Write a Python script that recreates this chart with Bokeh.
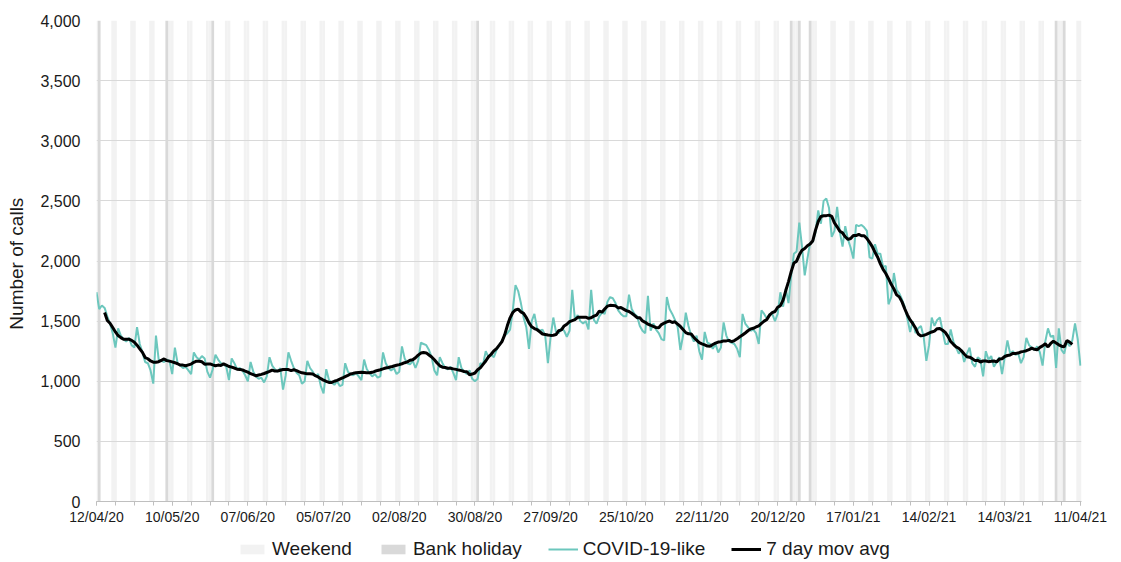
import pandas as pd
from bokeh.plotting import figure
from bokeh.layouts import column
from bokeh.models import (FixedTicker, DatetimeTickFormatter, NumeralTickFormatter,
                          Legend, LegendItem, Range1d)
from bokeh.embed import file_html
from bokeh.resources import INLINE

# ---------------- data ----------------
start_date = "2020-04-12"
covid_calls = [
    1740, 1600, 1630, 1610, 1540, 1480, 1400,
    1280, 1440, 1380, 1350, 1330, 1360, 1300,
    1280, 1450, 1310, 1240, 1160, 1150, 1090,
    980, 1380, 1180, 1170, 1160, 1180, 1170,
    1060, 1280, 1150, 1130, 1110, 1120, 1090,
    1060, 1240, 1200, 1180, 1210, 1190, 1080,
    1030, 1100, 1220, 1180, 1150, 1140, 1120,
    1010, 1190, 1150, 1100, 1110, 1090, 1050,
    1000, 1160, 1080, 1040, 1020, 1030, 990,
    1040, 1200, 1130, 1100, 1080, 1110, 930,
    1050, 1240, 1170, 1110, 1070, 1050, 980,
    1000, 1170, 1110, 1080, 1040, 1060, 960,
    900, 1100, 1010, 990, 970, 1000, 960,
    970, 1150, 1080, 1060, 1050, 1070, 1040,
    1010, 1180, 1100, 1070, 1040, 1060, 1030,
    1040, 1240, 1150, 1110, 1090, 1110, 1060,
    1080, 1290, 1190, 1150, 1140, 1170, 1110,
    1170, 1320, 1310, 1300, 1260, 1200, 1090,
    1050, 1200, 1150, 1110, 1100, 1120, 1070,
    1010, 1200, 1110, 1080, 1060, 1090, 1020,
    1000, 1020, 1150, 1140, 1250, 1200, 1220,
    1200, 1260, 1300, 1340, 1380, 1400, 1430,
    1590, 1800, 1750, 1650, 1530, 1450, 1270,
    1500, 1560, 1440, 1420, 1430, 1380, 1150,
    1370, 1530, 1410, 1400, 1440, 1420, 1370,
    1420, 1760, 1510, 1550, 1500, 1480, 1500,
    1430, 1760, 1510, 1480, 1540, 1570, 1560,
    1660, 1700, 1690, 1650, 1590, 1560, 1540,
    1540, 1720, 1600, 1560, 1540, 1460, 1420,
    1400, 1710, 1420, 1480, 1430, 1400, 1350,
    1340, 1700, 1600, 1560, 1510, 1450, 1260,
    1380, 1570, 1460, 1380, 1330, 1380, 1250,
    1180, 1410, 1320, 1310, 1270, 1310, 1240,
    1280, 1490, 1380, 1330, 1320, 1310, 1270,
    1200, 1560, 1480, 1450, 1420, 1430, 1400,
    1310, 1590, 1560, 1520, 1560, 1560, 1500,
    1560, 1740, 1620, 1770, 1650, 1880, 2060,
    2080, 2320, 2120, 1880, 2020, 2150, 2160,
    2240, 2420, 2310, 2500, 2520, 2440, 2200,
    2250, 2450, 2240, 2120, 2290, 2180, 2110,
    2020, 2300, 2290, 2300, 2280, 2250, 2030,
    2020, 2140, 2060, 2060, 1950, 1960, 1640,
    1700, 1900, 1760, 1730, 1680, 1620, 1520,
    1410, 1500, 1400, 1440, 1460, 1370, 1170,
    1300, 1530, 1460, 1510, 1530, 1420, 1310,
    1310, 1430, 1330, 1280, 1230, 1260, 1160,
    1230, 1280, 1150, 1120, 1200, 1180, 1040,
    1250, 1180, 1210, 1120, 1160, 1200, 1060,
    1200, 1340, 1230, 1250, 1220, 1230, 1150,
    1200, 1360, 1300, 1280, 1260, 1290, 1240,
    1130, 1330, 1440, 1370, 1380, 1110, 1440,
    1260, 1230, 1330, 1290, 1340, 1480, 1350,
    1130,
]
bank_holidays = ["2020-04-13", "2020-05-08", "2020-05-25", "2020-08-31",
                 "2020-12-25", "2020-12-28", "2021-01-01", "2021-04-02", "2021-04-05"]
x_tick_dates = ["2020-04-12", "2020-05-10", "2020-06-07", "2020-07-05", "2020-08-02",
                "2020-08-30", "2020-09-27", "2020-10-25", "2020-11-22", "2020-12-20",
                "2021-01-17", "2021-02-14", "2021-03-14", "2021-04-11"]
y_ticks = [0, 500, 1000, 1500, 2000, 2500, 3000, 3500, 4000]
legend_labels = ["Weekend", "Bank holiday", "COVID-19-like", "7 day mov avg"]

# ---------------- derived ----------------
dates = pd.date_range(start_date, periods=len(covid_calls), freq="D")
mov_avg = pd.Series(covid_calls).rolling(7, center=True).mean()
weekend_dates = dates[dates.weekday >= 5]
bh_dates = pd.to_datetime(bank_holidays)
DAY = 86400000.0

def ms(d):
    return pd.Timestamp(d).value / 1e6

FONT = "Liberation Sans"
TXT = "#1a1a1a"
WE_COL, BH_COL, CV_COL = "#f2f2f2", "#d9d9d9", "#6cc7bd"

p = figure(width=1113, height=530, x_axis_type="datetime",
           x_range=Range1d(ms(dates[0]), ms(dates[-1]) + 0.4 * DAY),
           y_range=Range1d(0, 4000),
           output_backend="svg", toolbar_location=None,
           min_border_left=96, min_border_right=32, min_border_top=20, min_border_bottom=29)
p.outline_line_color = None
p.background_fill_color = "white"

p.vbar(x=weekend_dates, top=4000, bottom=0, width=1.02 * DAY,
       fill_color=WE_COL, line_color=None, level="image")
p.vbar(x=bh_dates, top=4000, bottom=0, width=1.02 * DAY,
       fill_color=BH_COL, line_color=None, level="image")
p.line(dates, covid_calls, line_color=CV_COL, line_width=2)
p.line(dates, mov_avg, line_color="black", line_width=3)

# grid
p.xgrid.grid_line_color = None
p.ygrid.grid_line_color = "#d9d9d9"
p.ygrid.grid_line_width = 1

# y axis
p.yaxis.ticker = FixedTicker(ticks=y_ticks)
p.yaxis.formatter = NumeralTickFormatter(format="0,0")
p.yaxis.axis_line_color = None
p.yaxis.major_tick_line_color = None
p.yaxis.major_tick_out = 0
p.yaxis.major_tick_in = 0
p.yaxis.minor_tick_line_color = None
p.yaxis.minor_tick_out = 0
p.yaxis.major_label_text_font = FONT
p.yaxis.major_label_text_font_size = "16px"
p.yaxis.major_label_text_color = TXT
p.yaxis.major_label_standoff = 16
p.yaxis.axis_label = "Number  of calls"
p.yaxis.axis_label_text_font = FONT
p.yaxis.axis_label_text_font_size = "19px"
p.yaxis.axis_label_text_font_style = "normal"
p.yaxis.axis_label_text_color = TXT
p.yaxis.axis_label_standoff = 10

# x axis
major = [ms(d) for d in x_tick_dates]
minor = [ms(d) for d in pd.date_range(x_tick_dates[0], x_tick_dates[-1], freq="7D")]
p.xaxis.ticker = FixedTicker(ticks=major, minor_ticks=minor)
fmt = "%d/%m/%y"
p.xaxis.formatter = DatetimeTickFormatter(days=fmt, months=fmt, years=fmt, hours=fmt,
                                          context=None)
p.xaxis.axis_line_color = "#bfbfbf"
p.xaxis.major_tick_line_color = "#bfbfbf"
p.xaxis.minor_tick_line_color = "#bfbfbf"
p.xaxis.major_tick_in = 0
p.xaxis.major_tick_out = 4
p.xaxis.minor_tick_in = 0
p.xaxis.minor_tick_out = 4
p.xaxis.major_label_text_font = FONT
p.xaxis.major_label_text_font_size = "14px"
p.xaxis.major_label_text_color = TXT
p.xaxis.major_label_standoff = 3

# ---------------- legend strip ----------------
lg = figure(width=1113, height=30, x_range=Range1d(0, 1), y_range=Range1d(0, 1),
            x_axis_location=None, y_axis_location=None,
            output_backend="svg", toolbar_location=None,
            min_border_left=0, min_border_right=0, min_border_top=0, min_border_bottom=0)
lg.grid.visible = False
lg.outline_line_color = None
l_we = lg.vbar(x=[5], top=[6], bottom=[5], width=0.1, fill_color=WE_COL, line_color=None)
l_bh = lg.vbar(x=[5], top=[6], bottom=[5], width=0.1, fill_color=BH_COL, line_color=None)
l_cv = lg.line([5, 6], [5, 6], line_color=CV_COL, line_width=2)
l_ma = lg.line([5, 6], [5, 6], line_color="black", line_width=3)

legend = Legend(items=[
    LegendItem(label=legend_labels[0], renderers=[l_we]),
    LegendItem(label=legend_labels[1], renderers=[l_bh]),
    LegendItem(label=legend_labels[2], renderers=[l_cv]),
    LegendItem(label=legend_labels[3], renderers=[l_ma]),
], orientation="horizontal", location=(141, 0))
legend.label_text_font = FONT
legend.label_text_font_size = "19px"
legend.label_text_color = TXT
legend.glyph_width = 30
legend.glyph_height = 12
legend.label_standoff = 5
legend.spacing = 26
legend.padding = 0
legend.margin = 0
legend.border_line_color = None
legend.background_fill_alpha = 0
lg.add_layout(legend)

layout = column(p, lg, spacing=0)
open("out.html", "w").write(file_html(layout, INLINE))
